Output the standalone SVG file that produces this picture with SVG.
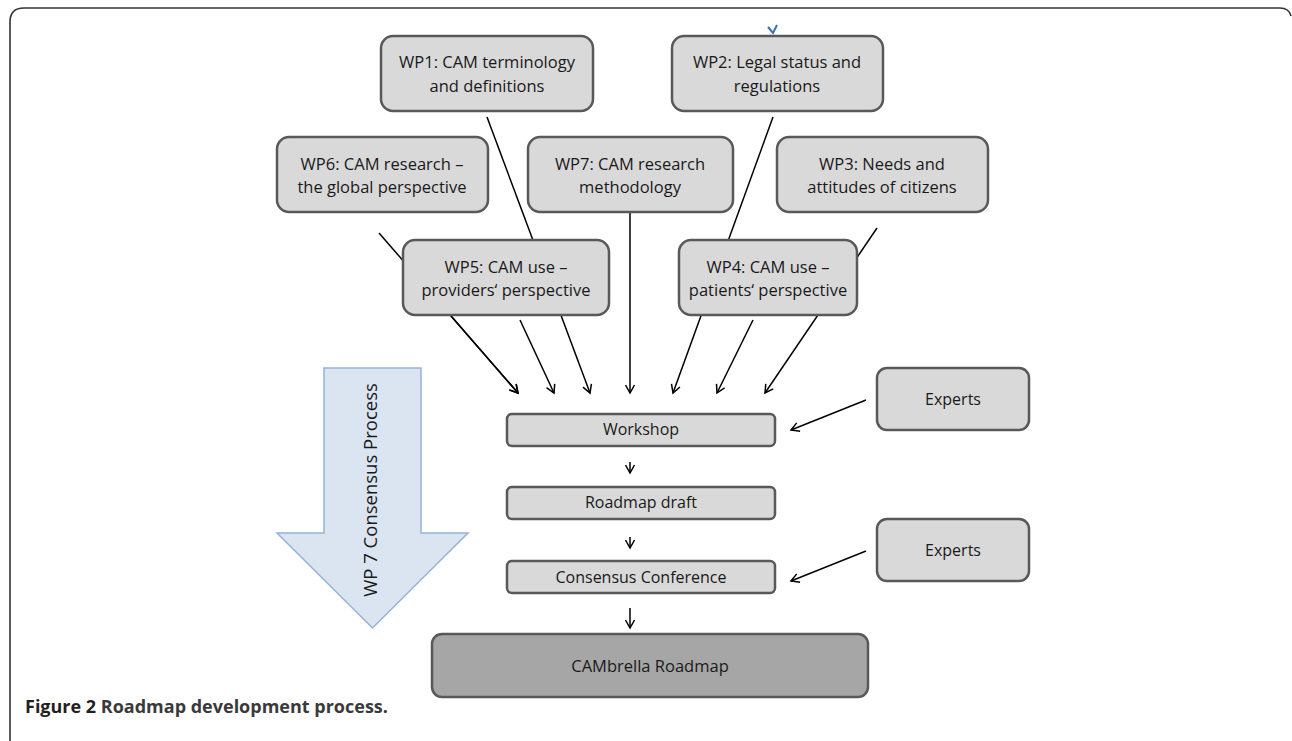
<svg xmlns="http://www.w3.org/2000/svg" width="1292" height="741" viewBox="0 0 1292 741">
<style>
  .box { fill: #d9d9d9; stroke: #595959; stroke-width: 2.5; }
  .dark { fill: #a6a6a6; stroke: #595959; stroke-width: 2.5; }
  .t { font-family: "Open Sans", "Liberation Sans", sans-serif; font-size: 16.5px; fill: #1a1a1a; text-anchor: middle; }
  .s { font-family: "Open Sans", "Liberation Sans", sans-serif; font-size: 16px; fill: #1a1a1a; text-anchor: middle; }
  .c { stroke: #000; stroke-width: 1.5; fill: none; }
  .a { marker-end: url(#ah); }
</style>
<defs>
  <marker id="ah" markerUnits="userSpaceOnUse" markerWidth="12" markerHeight="12" refX="9" refY="5" orient="auto" overflow="visible">
    <path d="M1,0.5 L9,5 L1,9.5" fill="none" stroke="#000" stroke-width="1.5"/>
  </marker>
</defs>
<rect width="1292" height="741" fill="#fff"/>
<path d="M10,745 L10,22 Q10,8 24,8 L1280,8 Q1289,8 1291,16" fill="none" stroke="#333" stroke-width="1.6"/>
<path d="M768,27 L773,33 L777,25" fill="none" stroke="#3b6fb6" stroke-width="2"/>

<g id="connectors">
  <line class="c a" x1="379" y1="233" x2="518" y2="393"/>
  <line class="c a" x1="487" y1="117" x2="590" y2="393"/>
  <line class="c a" x1="520" y1="320" x2="554" y2="393"/>
  <line class="c a" x1="451" y1="316" x2="518" y2="393"/>
  <line class="c a" x1="630" y1="212" x2="630" y2="393"/>
  <line class="c a" x1="773" y1="117" x2="673" y2="393"/>
  <line class="c a" x1="753" y1="320" x2="717" y2="393"/>
  <line class="c a" x1="877" y1="228" x2="765" y2="393"/>
  <line class="c a" x1="866" y1="400" x2="791" y2="430"/>
  <line class="c a" x1="866" y1="551" x2="791" y2="581"/>
  <line class="c a" x1="630" y1="462" x2="630" y2="473"/>
  <line class="c a" x1="630" y1="537" x2="630" y2="548"/>
  <line class="c a" x1="630" y1="608" x2="630" y2="628"/>
</g>

<g id="consensus-arrow">
  <path d="M324,368 L421,368 L421,533 L468,533 L372.5,628 L277,533 L324,533 Z" fill="#dbe5f1" stroke="#95b3d7" stroke-width="1.5"/>
  <text transform="translate(377,490) rotate(-90)" font-family="Open Sans, Liberation Sans, sans-serif" font-size="18.5" fill="#1a1a1a" text-anchor="middle">WP 7 Consensus Process</text>
</g>

<g id="wp1"><rect class="box" x="381" y="36" width="212" height="75" rx="12"/>
  <text class="t" x="487" y="68">WP1: CAM terminology</text><text class="t" x="487" y="92">and definitions</text></g>
<g id="wp2"><rect class="box" x="672" y="36" width="211" height="75" rx="12"/>
  <text class="t" x="777" y="68">WP2: Legal status and</text><text class="t" x="777" y="92">regulations</text></g>
<g id="wp6"><rect class="box" x="277" y="137" width="211" height="75" rx="12"/>
  <text class="t" x="382" y="170">WP6: CAM research –</text><text class="t" x="382" y="193">the global perspective</text></g>
<g id="wp7"><rect class="box" x="528" y="137" width="205" height="75" rx="12"/>
  <text class="t" x="630" y="170">WP7: CAM research</text><text class="t" x="630" y="193">methodology</text></g>
<g id="wp3"><rect class="box" x="777" y="137" width="211" height="75" rx="12"/>
  <text class="t" x="882" y="170">WP3: Needs and</text><text class="t" x="882" y="193">attitudes of citizens</text></g>
<g id="wp5"><rect class="box" x="403" y="240" width="206" height="75" rx="12"/>
  <text class="t" x="506" y="273">WP5: CAM use –</text><text class="t" x="506" y="296">providers‘ perspective</text></g>
<g id="wp4"><rect class="box" x="679" y="240" width="178" height="75" rx="12"/>
  <text class="t" x="768" y="273">WP4: CAM use –</text><text class="t" x="768" y="296">patients‘ perspective</text></g>
<g id="experts1"><rect class="box" x="877" y="368" width="152" height="62" rx="10"/>
  <text class="s" x="953" y="405">Experts</text></g>
<g id="experts2"><rect class="box" x="877" y="519" width="152" height="62" rx="10"/>
  <text class="s" x="953" y="556">Experts</text></g>
<g id="workshop"><rect class="box" x="507" y="414" width="268" height="32" rx="5"/>
  <text class="s" x="641" y="435">Workshop</text></g>
<g id="roadmap-draft"><rect class="box" x="507" y="487" width="268" height="32" rx="5"/>
  <text class="s" x="641" y="508">Roadmap draft</text></g>
<g id="consensus-conference"><rect class="box" x="507" y="561" width="268" height="32" rx="5"/>
  <text class="s" x="641" y="583">Consensus Conference</text></g>
<g id="cambrella-roadmap"><rect class="dark" x="432" y="634" width="436" height="63" rx="10"/>
  <text class="t" x="650" y="672">CAMbrella Roadmap</text></g>

<text x="25" y="713" font-family="Open Sans, Liberation Sans, sans-serif" font-size="18" font-weight="700" fill="#231f20">Figure 2 <tspan fill="#3a3a3a">Roadmap development process.</tspan></text>
</svg>
